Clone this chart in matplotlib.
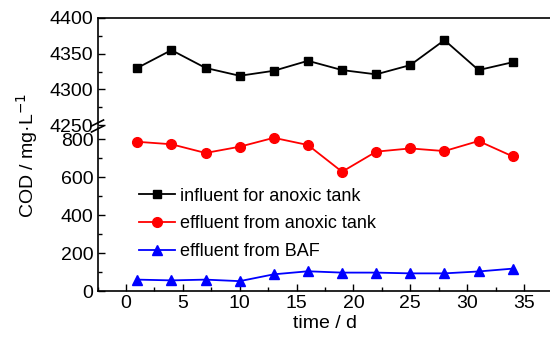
import matplotlib
matplotlib.use("Agg")
import matplotlib.pyplot as plt
from matplotlib.ticker import MultipleLocator
from matplotlib.lines import Line2D

plt.rcParams['font.family'] = ['Liberation Sans', 'DejaVu Sans']

time_d = [1, 4, 7, 10, 13, 16, 19, 22, 25, 28, 31, 34]
influent_anoxic = [4330, 4355, 4330, 4319, 4326, 4340, 4327, 4321, 4334, 4369, 4327, 4338]
effluent_anoxic = [787, 774, 728, 761, 808, 770, 629, 735, 752, 738, 791, 710]
effluent_baf = [60, 56, 60, 52, 88, 104, 97, 97, 93, 93, 103, 118]

labels = ["influent for anoxic tank", "effluent from anoxic tank", "effluent from BAF"]

W, H = 550, 340
fig = plt.figure(figsize=(5.5, 3.4), dpi=100)

left = 97.5 / W
width = 455 / W
ax_top = fig.add_axes([left, 1 - 125 / H, width, (125 - 18) / H])
ax_bot = fig.add_axes([left, 1 - 291 / H, width, (291 - 127) / H])

fs = 14
for ax in (ax_top, ax_bot):
    ax.set_xlim(-2.5, 37.5)
    ax.spines['right'].set_visible(False)
    for s in ax.spines.values():
        s.set_linewidth(1.2)
    ax.tick_params(direction='in', which='major', length=5, width=1, labelsize=fs, pad=3)
    ax.tick_params(direction='in', which='minor', length=3, width=1)

ax_top.plot(time_d, influent_anoxic, color='black', marker='s', markersize=6, lw=1.3)
ax_top.set_ylim(4250, 4400)
ax_top.yaxis.set_major_locator(MultipleLocator(50))
ax_top.yaxis.set_minor_locator(MultipleLocator(25))
ax_top.spines['bottom'].set_visible(False)
ax_top.tick_params(axis='x', which='both', bottom=False, labelbottom=False)

l1, = ax_bot.plot([], [], color='black', marker='s', markersize=6, lw=1.3)
l2, = ax_bot.plot(time_d, effluent_anoxic, color='red', marker='o', markersize=7, lw=1.3)
l3, = ax_bot.plot(time_d, effluent_baf, color='blue', marker='^', markersize=7, lw=1.3)
ax_bot.set_ylim(0, 865)
ax_bot.yaxis.set_major_locator(MultipleLocator(200))
ax_bot.yaxis.set_minor_locator(MultipleLocator(100))
ax_bot.xaxis.set_major_locator(MultipleLocator(5))
ax_bot.xaxis.set_minor_locator(MultipleLocator(2.5))
ax_bot.spines['top'].set_visible(False)
ax_bot.set_xlabel("time / d", fontsize=fs, labelpad=2)

ax_bot.legend([l1, l2, l3], labels, loc='upper left', bbox_to_anchor=(0.075, 0.675),
              frameon=False, fontsize=13, handlelength=2.0, handletextpad=0.3,
              labelspacing=0.6, borderaxespad=0)

fig.text(27 / W, 1 - 155 / H, "COD / mg·L$^{-1}$", rotation=90, fontsize=fs,
         ha='center', va='center')

# break marks
x0 = 97.5 / W
for yc in (123, 129):
    fig.add_artist(Line2D([x0 - 6 / W, x0 + 6 / W], [1 - (yc + 3) / H, 1 - (yc - 3) / H],
                          color='black', lw=1.2))

fig.savefig("out.png", dpi=100)
